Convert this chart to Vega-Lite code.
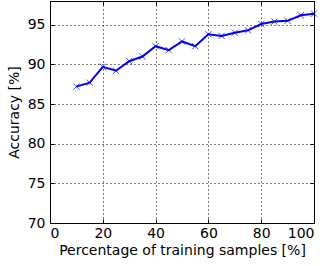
{
  "$schema": "https://vega.github.io/schema/vega-lite/v6.json",
  "width": 264,
  "height": 222,
  "autosize": "none",
  "padding": {"left": 50, "top": 1, "right": 13, "bottom": 43},
  "background": "white",
  "config": {
    "font": "DejaVu Sans",
    "view": {"stroke": "black", "strokeWidth": 1},
    "axis": {
      "labelFont": "DejaVu Sans",
      "titleFont": "DejaVu Sans",
      "labelFontSize": 14,
      "titleFontSize": 14,
      "labelColor": "black",
      "titleColor": "black",
      "titleFontWeight": "normal",
      "domain": false,
      "tickColor": "black",
      "tickSize": -4,
      "grid": true,
      "gridColor": "black",
      "gridDash": [1, 3],
      "gridOpacity": 1,
      "gridWidth": 1
    }
  },
  "data": {
    "values": [
      {"pct": 10, "acc": 87.2},
      {"pct": 15, "acc": 87.7},
      {"pct": 20, "acc": 89.7},
      {"pct": 25, "acc": 89.2},
      {"pct": 30, "acc": 90.4},
      {"pct": 35, "acc": 91.0},
      {"pct": 40, "acc": 92.3},
      {"pct": 45, "acc": 91.8},
      {"pct": 50, "acc": 92.9},
      {"pct": 55, "acc": 92.3},
      {"pct": 60, "acc": 93.8},
      {"pct": 65, "acc": 93.6},
      {"pct": 70, "acc": 94.0},
      {"pct": 75, "acc": 94.3},
      {"pct": 80, "acc": 95.1},
      {"pct": 85, "acc": 95.4},
      {"pct": 90, "acc": 95.5},
      {"pct": 95, "acc": 96.2},
      {"pct": 100, "acc": 96.4}
    ]
  },
  "resolve": {"axis": {"x": "independent", "y": "independent"}},
  "layer": [
    {
      "mark": {"type": "line", "color": "#0000ff", "strokeWidth": 2, "clip": true},
      "encoding": {
        "x": {
          "field": "pct", "type": "quantitative",
          "scale": {"domain": [0, 100], "nice": false},
          "axis": {"values": [0, 20, 40, 60, 80, 100], "title": "Percentage of training samples [%]", "labelPadding": 7, "titlePadding": 3}
        },
        "y": {
          "field": "acc", "type": "quantitative",
          "scale": {"domain": [70, 98], "nice": false, "zero": false},
          "axis": {"values": [70, 75, 80, 85, 90, 95], "title": "Accuracy [%]", "labelPadding": 9, "titlePadding": 6}
        }
      }
    },
    {
      "mark": {"type": "point", "shape": "M-1,-1L1,1M-1,1L1,-1", "color": "#0000ff", "filled": false, "size": 40, "strokeWidth": 1, "clip": false},
      "encoding": {
        "x": {
          "field": "pct", "type": "quantitative",
          "axis": {"orient": "top", "values": [0, 20, 40, 60, 80, 100], "labels": false, "title": null, "grid": false}
        },
        "y": {
          "field": "acc", "type": "quantitative",
          "axis": {"orient": "right", "values": [70, 75, 80, 85, 90, 95], "labels": false, "title": null, "grid": false}
        }
      }
    }
  ]
}
